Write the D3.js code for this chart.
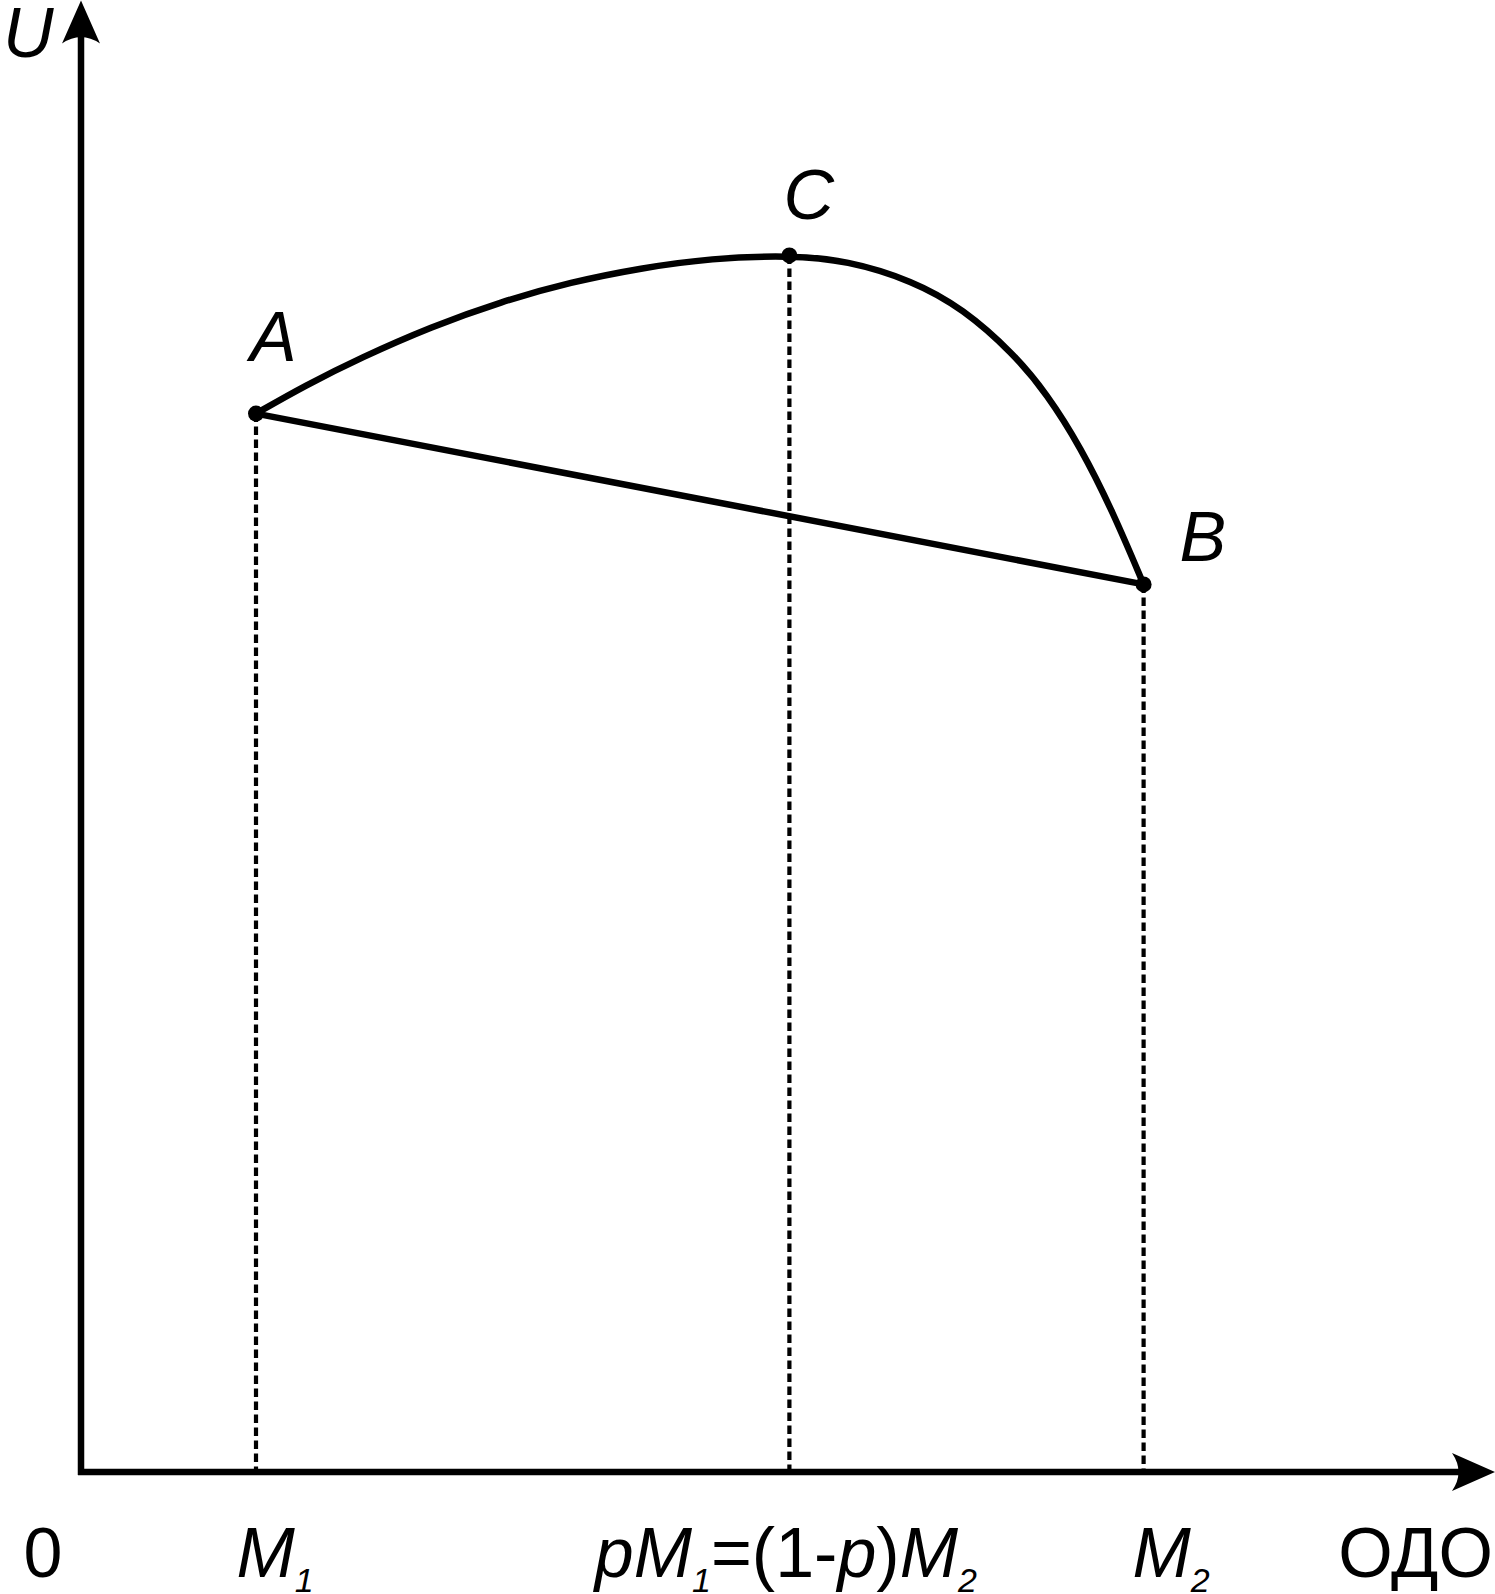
<!DOCTYPE html>
<html>
<head>
<meta charset="utf-8">
<script src="https://cdn.jsdelivr.net/npm/d3@7"></script>
<style>
  html, body { margin: 0; padding: 0; background: #fff; }
  svg { display: block; }
  text { font-family: "Liberation Sans", Arial, sans-serif; fill: #000; }
</style>
</head>
<body>
<script>
// ---- data (abstract units: ОДО on x, U on y) ----
const pointNames = ["A", "C", "B"];
const pointX = [12.5, 50.6, 75.9];
const pointY = [75.6, 86.9, 63.4];

const curveX = [12.5, 16.0, 20.0, 25.0, 30.0, 35.0, 40.0, 45.0, 50.6, 54.7, 59.4, 63.0, 66.6, 69.0, 71.4, 73.7, 75.9];
const curveY = [75.6, 77.6, 79.6, 81.8, 83.6, 85.0, 86.0, 86.7, 86.9, 86.55, 85.1, 83.1, 79.9, 77.0, 73.2, 68.6, 63.4];

const chordX = [12.5, 75.9];
const chordY = [75.6, 63.4];

const xAxisEnd = 101.0;
const yAxisEnd = 105.1;

// x-axis tick labels (parts: [text, style]) ; style: i = italic, n = normal, s = subscript
const tickX = [-4.1, 11.1, 36.7, 75.1, 89.8];
const tickLabels = [
  [["0", "n"]],
  [["M", "i"], ["1", "s"]],
  [["p", "i"], ["M", "i"], ["1", "s"], ["=(1-", "n"], ["p", "i"], [")", "n"], ["M", "i"], ["2", "s"]],
  [["M", "i"], ["2", "s"]],
  [["ОДО", "n"]]
];
const axisTitleY = "U";

// ---- layout ----
const W = 1495, H = 1594;
const x = d3.scaleLinear().domain([0, 100]).range([81, 1481]);
const y = d3.scaleLinear().domain([0, 100]).range([1472, 72]);

const svg = d3.select("body").append("svg").attr("width", W).attr("height", H);

const FS = 70, SUB = 34, SUBDY = 15;
const LW = 6.5;

// axes
svg.append("line")
  .attr("x1", x(0)).attr("x2", x(0))
  .attr("y1", y(0) + 3).attr("y2", y(yAxisEnd) + 36)
  .attr("stroke", "#000").attr("stroke-width", LW);
svg.append("line")
  .attr("x1", x(0) - 3).attr("x2", x(xAxisEnd) - 36)
  .attr("y1", y(0)).attr("y2", y(0))
  .attr("stroke", "#000").attr("stroke-width", LW);

// arrowheads
{
  const tx = x(0), ty = y(yAxisEnd);
  svg.append("path")
    .attr("d", `M${tx},${ty} L${tx + 19},${ty + 43} Q${tx},${ty + 30} ${tx - 19},${ty + 43} Z`)
    .attr("fill", "#000");
  const hx = x(xAxisEnd), hy = y(0);
  svg.append("path")
    .attr("d", `M${hx},${hy} L${hx - 43},${hy - 19} Q${hx - 30},${hy} ${hx - 43},${hy + 19} Z`)
    .attr("fill", "#000");
}

// dashed drop lines
svg.selectAll("line.drop").data(pointX).enter().append("line")
  .attr("class", "drop")
  .attr("x1", d => x(d)).attr("x2", d => x(d))
  .attr("y1", (d, i) => y(pointY[i])).attr("y2", y(0))
  .attr("stroke", "#000").attr("stroke-width", 4.2)
  .attr("stroke-dasharray", "8.5,4.5");

// chord A-B
svg.append("line")
  .attr("x1", x(chordX[0])).attr("y1", y(chordY[0]))
  .attr("x2", x(chordX[1])).attr("y2", y(chordY[1]))
  .attr("stroke", "#000").attr("stroke-width", LW);

// utility curve
const line = d3.line().x(d => x(d[0])).y(d => y(d[1])).curve(d3.curveBasis);
svg.append("path")
  .datum(curveX.map((v, i) => [v, curveY[i]]))
  .attr("d", line)
  .attr("fill", "none").attr("stroke", "#000").attr("stroke-width", LW)
  .attr("stroke-linecap", "round");

// points
svg.selectAll("circle.pt").data(pointX).enter().append("circle")
  .attr("class", "pt")
  .attr("cx", d => x(d)).attr("cy", (d, i) => y(pointY[i]))
  .attr("r", 8).attr("fill", "#000");

// point labels
const labelDX = [-6, -6, 36];
const labelDY = [-53, -36, -23];
svg.selectAll("text.pl").data(pointNames).enter().append("text")
  .attr("class", "pl")
  .attr("x", (d, i) => x(pointX[i]) + labelDX[i])
  .attr("y", (d, i) => y(pointY[i]) + labelDY[i])
  .attr("font-size", FS).attr("font-style", "italic")
  .text(d => d);

// y axis title
svg.append("text").attr("x", 3).attr("y", 57)
  .attr("font-size", FS).attr("font-style", "italic").text(axisTitleY);

// x tick labels
const baseY = 1577;
tickLabels.forEach((parts, k) => {
  const t = svg.append("text").attr("x", x(tickX[k])).attr("y", baseY).attr("font-size", FS);
  let prevSub = false;
  parts.forEach(([txt, st]) => {
    const ts = t.append("tspan").text(txt);
    if (st === "s") {
      ts.attr("font-size", SUB).attr("font-style", "italic").attr("dy", SUBDY);
      prevSub = true;
    } else {
      ts.attr("font-style", st === "i" ? "italic" : "normal");
      if (prevSub) { ts.attr("dy", -SUBDY); prevSub = false; }
    }
  });
});
</script>
</body>
</html>
